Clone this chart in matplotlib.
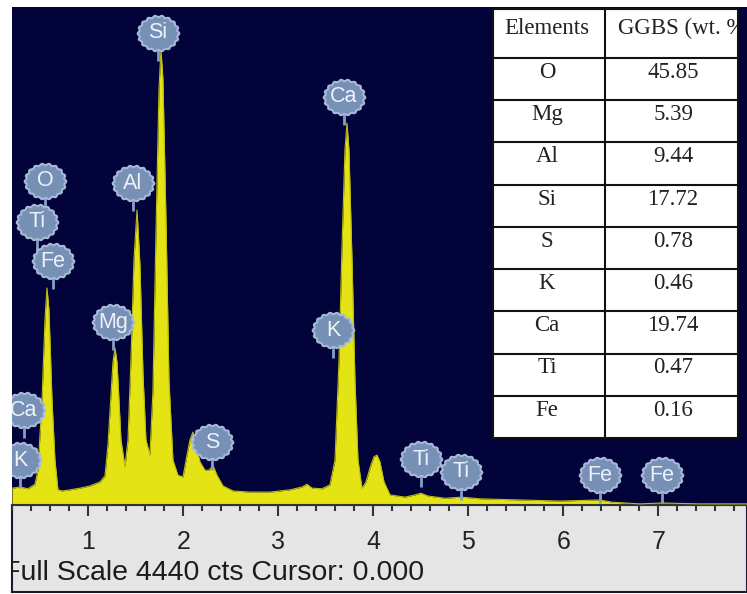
import numpy as np
import matplotlib
matplotlib.use("Agg")
import matplotlib.pyplot as plt
from matplotlib.path import Path
from matplotlib.ticker import MultipleLocator

# EDS spectrum of GGBS, energy in keV, intensity in counts
energy_kev = [0.195, 0.279, 0.363, 0.437, 0.468, 0.511, 0.542, 0.563, 0.584, 0.616,
              0.647, 0.679, 0.721, 0.805, 0.911, 1.016, 1.121, 1.174, 1.205, 1.237,
              1.258, 1.279, 1.300, 1.321, 1.342, 1.384, 1.416, 1.447, 1.479, 1.511,
              1.542, 1.574, 1.605, 1.647, 1.679, 1.711, 1.742, 1.763, 1.784, 1.816,
              1.847, 1.889, 1.942, 1.995, 2.037, 2.068, 2.100, 2.132, 2.174, 2.226,
              2.268, 2.311, 2.353, 2.416, 2.521, 2.700, 2.911, 3.121, 3.247, 3.300,
              3.353, 3.458, 3.542, 3.595, 3.637, 3.668, 3.700, 3.721, 3.742, 3.774,
              3.805, 3.837, 3.879, 3.921, 3.963, 4.005, 4.037, 4.068, 4.111, 4.174,
              4.332, 4.437, 4.500, 4.574, 4.753, 4.932, 5.121, 5.542, 5.963, 6.384,
              6.511, 6.805, 7.037, 7.437, 7.932]
counts = [150, 160, 145, 185, 310, 935, 1650, 1935, 1740, 935,
          400, 135, 125, 135, 150, 170, 205, 260, 535, 980,
          1275, 1400, 1275, 935, 580, 340, 580, 1290, 2185, 2630,
          2140, 1160, 580, 445, 1025, 2450, 3700, 4060, 3790, 2540,
          1115, 400, 265, 250, 445, 580, 650, 535, 385, 310,
          310, 350, 265, 170, 125, 115, 115, 135, 160, 185,
          150, 145, 180, 400, 1290, 2275, 3165, 3405, 3165, 2185,
          1115, 400, 150, 205, 330, 430, 445, 385, 205, 90,
          70, 90, 105, 80, 60, 70, 55, 45, 35, 45,
          25, 10, 18, 10, 10]

full_scale = 4440
cursor_kev = 0.0

# element tags on the spectrum
tag_labels = ["O", "Ti", "Fe", "Ca", "K", "Mg", "Al", "Si", "S",
              "K", "Ca", "Ti", "Ti", "Fe", "Fe"]
tag_kev = [0.542, 0.458, 0.626, 0.321, 0.279, 1.258, 1.468, 1.732, 2.300,
           3.574, 3.689, 4.500, 4.921, 6.384, 7.037]
tag_y = [2890, 2525, 2175, 845, 400, 1630, 2870, 4210, 560,
         1560, 3640, 410, 295, 265, 265]

# quantification table
elements = ["O", "Mg", "Al", "Si", "S", "K", "Ca", "Ti", "Fe"]
wt_pct = [45.85, 5.39, 9.44, 17.72, 0.78, 0.46, 19.74, 0.47, 0.16]

W, H = 747, 594
fig = plt.figure(figsize=(W / 100, H / 100), dpi=100, facecolor="white")

# grey scale panel underneath the spectrum
panel = fig.add_axes([12 / W, 2 / H, 735 / W, 87 / H])
panel.set_facecolor("#e5e5e5")
panel.set_xticks([])
panel.set_yticks([])
for s in panel.spines.values():
    s.set_color("#1a1a2a")
    s.set_linewidth(1.5)
panel.text(-0.012, 0.22, f"Full Scale {full_scale} cts Cursor: {cursor_kev:.3f}",
           transform=panel.transAxes, ha="left", va="center", fontsize=20.5,
           color="#1c1c1c", family="Liberation Sans", clip_on=True)

ax = fig.add_axes([12 / W, 89 / H, 735 / W, 498 / H])
ax.set_facecolor("#03033c")
ax.fill_between(energy_kev, counts, 0, color="#e4e414", lw=0, zorder=2)
ax.plot(energy_kev, counts, color="#bcbc10", lw=0.8, zorder=3)
ax.set_xlim(0.195, 7.932)
ax.set_ylim(0, full_scale)

for side in ["top", "left", "right"]:
    ax.spines[side].set_visible(False)
ax.spines["bottom"].set_color("#333333")
ax.spines["bottom"].set_linewidth(1.5)
ax.set_yticks([])
ax.xaxis.set_major_locator(MultipleLocator(1))
ax.xaxis.set_minor_locator(MultipleLocator(0.2))
ax.tick_params(axis="x", which="major", direction="out", length=8, width=1.5,
               color="#333333", pad=10, labelsize=18, labelcolor="#222222")
ax.tick_params(axis="x", which="minor", direction="out", length=4, width=1.5,
               color="#333333")
for lab in ax.get_xticklabels():
    lab.set_fontfamily("Liberation Sans")

# scalloped badge used for the element tags
theta = np.linspace(0, 2 * np.pi, 145)
rad = 1 + 0.045 * np.cos(18 * theta)
badge = Path(np.column_stack([rad * np.cos(theta), 0.86 * rad * np.sin(theta)]), closed=True)

cnt_per_px = full_scale / 498
for lab, e, h in zip(tag_labels, tag_kev, tag_y):
    ax.plot([e, e], [h - 17 * cnt_per_px, h - 28 * cnt_per_px], color="#86a0c4",
            lw=2, zorder=4, solid_capstyle="butt")
    ax.plot([e], [h], marker=badge, markersize=30, markerfacecolor="#7690b6",
            markeredgecolor="#a6bad6", markeredgewidth=1.5, zorder=5)
    ax.text(e, h, lab, ha="center", va="center", fontsize=15.5, color="#eef2f8",
            family="Liberation Sans", zorder=6)

# table of wt. %
tab = fig.add_axes([493 / W, 1 - 438 / H, 245 / W, 429 / H])
tab.set_facecolor("white")
n = len(elements)
head = 1.16
tab.set_xlim(0, 1)
tab.set_ylim(head + n, 0)
tab.set_xticks([])
tab.set_yticks([])
for s in tab.spines.values():
    s.set_color("#111111")
    s.set_linewidth(1.5)
for i in range(n):
    tab.axhline(head + i, color="#111111", lw=1.5)
tab.axvline(0.457, color="#111111", lw=1.5)

serif = dict(family="Liberation Serif", fontsize=16.5, color="#222222", va="center")
tab.text(0.22, 0.45, "Elements", ha="center", **serif)
tab.text(0.51, 0.45, "GGBS (wt. %)", ha="left", clip_on=True, **serif)
for i, (el, v) in enumerate(zip(elements, wt_pct)):
    tab.text(0.22, head + i + 0.34, el, ha="center", **serif)
    tab.text(0.735, head + i + 0.34, f"{v:.2f}", ha="center", **serif)

fig.savefig("out.png", dpi=100, facecolor="white")
